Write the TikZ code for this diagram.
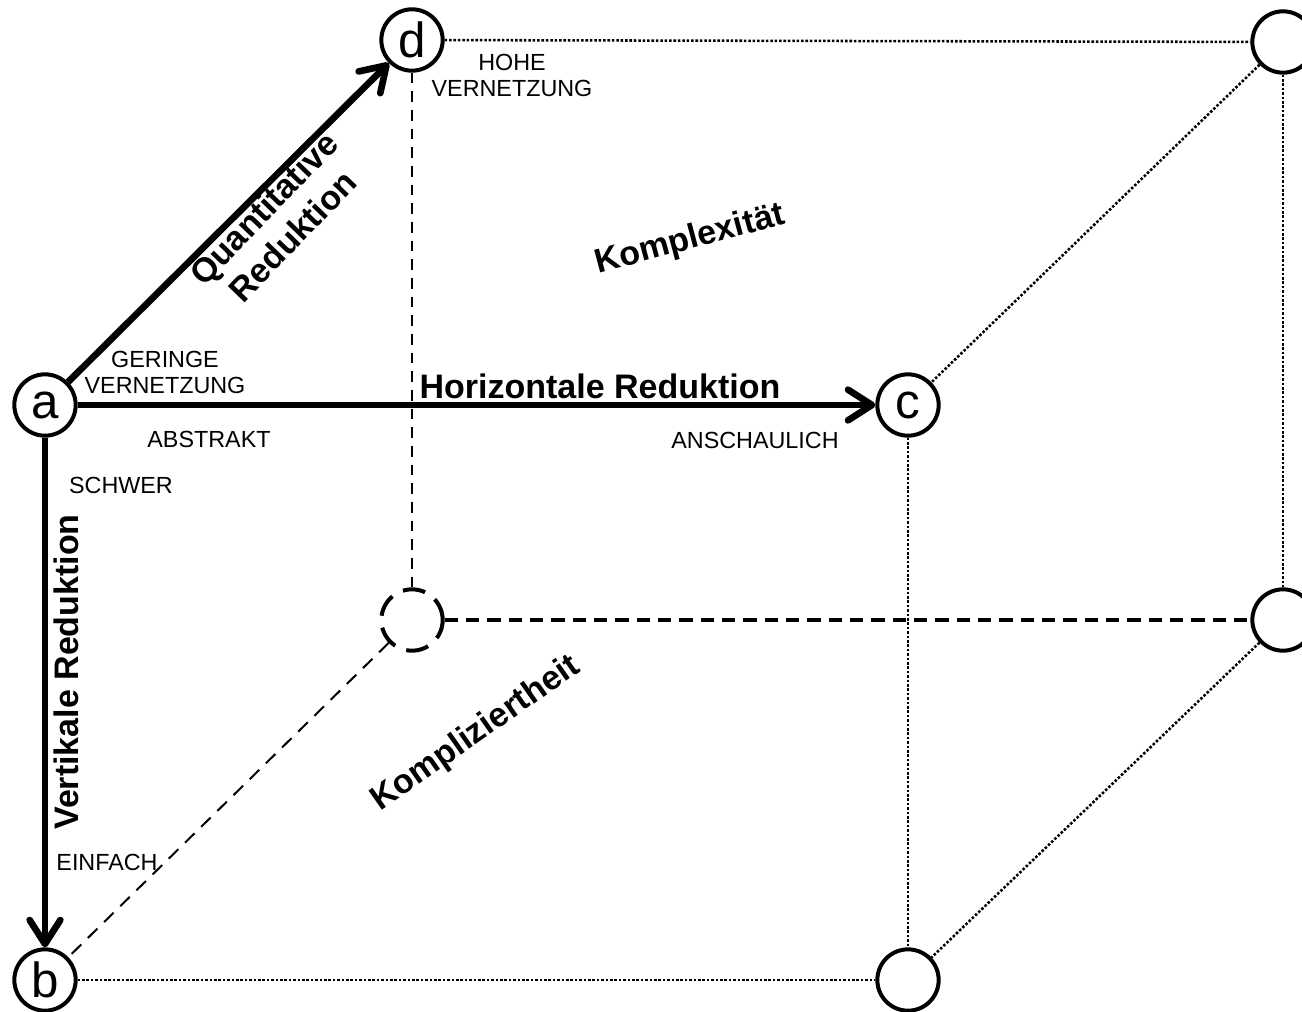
\documentclass[tikz,border=0pt]{standalone}
\usepackage{fontspec}
\setmainfont{Liberation Sans}
\usetikzlibrary{arrows.meta}
\tikzset{
  corner/.style={
    draw, circle, fill=white, line width=3pt,
    minimum size=46pt, inner sep=0pt,
    font=\fontsize{37}{37}\selectfont
  },
  hidden/.style={corner, dash pattern=on 17pt off 9pt},
  reduce/.style={line width=5pt, -{Straight Barb[length=18pt, width=23pt, round]}},
  backline/.style={line width=1.8pt, dash pattern=on 8pt off 6pt},
  frontline/.style={line width=1.9pt, dash pattern=on 1.9pt off 1.4pt},
  note/.style={font=\fontsize{17.5}{19.5}\selectfont, align=center},
  heading/.style={font=\fontsize{25.5}{30}\selectfont\bfseries, align=center}
}
\begin{document}
\begin{tikzpicture}[x=0.75pt, y=-0.75pt]
  \useasboundingbox (0,0) rectangle (1302,1011);
  \fill[white] (0,0) rectangle (1302,1011);
  % corners of the cube
  \node[corner] (a) at (45,405) {a};
  \node[corner] (b) at (45,980) {b};
  \node[corner] (c) at (908,405) {c};
  \node[corner] (d) at (412,40) {d};
  \node[hidden] (e) at (412,620) {};
  \node[corner] (f) at (1283,42) {};
  \node[corner] (g) at (1283,620) {};
  \node[corner] (h) at (908,980) {};
  % hidden edges
  \draw[backline] (d) -- (e);
  \draw[backline, line width=2.3pt, dash pattern=on 10pt off 6pt] (e) -- (g);
  \draw[backline, line width=1.5pt, dash pattern=on 10pt off 7pt] (e) -- (b);
  % visible edges
  \draw[frontline] (d) -- (f);
  \draw[frontline] (f) -- (g);
  \draw[frontline] (f) -- (c);
  \draw[frontline] (c) -- (h);
  \draw[frontline] (g) -- (h);
  \draw[frontline] (b) -- (h);
  % reductions
  \draw[reduce] (a) -- (d);
  \draw[reduce] (a) -- (c);
  \draw[reduce] (a) -- (b);
  % labels
  \node[note] (hohe) at (512,75) {HOHE\\VERNETZUNG};
  \node[note] (geringe) at (165,372) {GERINGE\\VERNETZUNG};
  \node[note] (abstrakt) at (209,439) {ABSTRAKT};
  \node[note] (anschaulich) at (755,440) {ANSCHAULICH};
  \node[note] (schwer) at (121,485) {SCHWER};
  \node[note] (einfach) at (107,862) {EINFACH};
  \node[heading] (horiz) at (600,386) {Horizontale Reduktion};
  \node[heading, rotate=90] (vert) at (66,672) {Vertikale Reduktion};
  \node[heading, rotate=46] (quant) at (278,222) {Quantitative\\Reduktion};
  \node[heading, rotate=15] (komplex) at (690,240) {Komplexität};
  \node[heading, rotate=35] (kompliz) at (476,734) {Kompliziertheit};
\end{tikzpicture}
\end{document}
